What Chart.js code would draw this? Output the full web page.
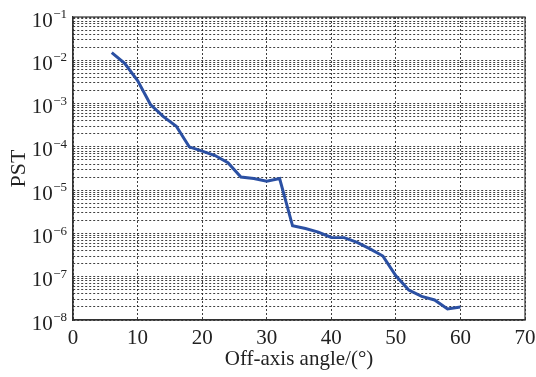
<!DOCTYPE html>
<html>
<head>
<meta charset="utf-8">
<script src="https://cdn.jsdelivr.net/npm/chart.js@4/dist/chart.umd.min.js"></script>
<style>
  html, body { margin: 0; padding: 0; background: #fff; }
  #wrap { width: 536px; height: 377px; }
</style>
</head>
<body>
<div id="wrap"><canvas id="c" width="536" height="377"></canvas></div>
<script>
// ---- data ----
const angles = [6, 8, 10, 12, 14, 16, 18, 20, 22, 24, 26, 28, 30, 32, 34, 36, 38, 40, 42, 44, 46, 48, 50, 52, 54, 56, 58, 60];
const pstValues = [1.5e-2, 8.5e-3, 3.4e-3, 9.5e-4, 5.0e-4, 3.0e-4, 1.0e-4, 8.0e-5, 6.3e-5, 4.3e-5, 2.0e-5, 1.85e-5, 1.6e-5, 1.85e-5,
                   1.5e-6, 1.3e-6, 1.07e-6, 8.1e-7, 8.0e-7, 6.2e-7, 4.4e-7, 3.0e-7, 1.05e-7, 4.9e-8, 3.5e-8, 2.9e-8, 1.8e-8, 2.0e-8];
const yTickValues = [1e-8, 1e-7, 1e-6, 1e-5, 1e-4, 1e-3, 1e-2, 1e-1];
const yTickBase = '10';
const yTickExponents = ['\u22128', '\u22127', '\u22126', '\u22125', '\u22124', '\u22123', '\u22122', '\u22121'];
const minorMultipliers = [2, 3, 4, 5, 6, 7, 8, 9];
const xTickStep = 10;
const xMin = 0, xMax = 70;
const xTitle = 'Off-axis angle/(\u00B0)';
const yTitle = 'PST';

const FONT = "'Liberation Serif', 'Times New Roman', serif";
const gridColor = 'rgba(30,30,30,0.85)';
const textColor = '#222';

const framePlugin = {
  id: 'frame',
  afterDatasetsDraw(chart) {
    const {ctx, chartArea: a} = chart;
    ctx.save();
    ctx.strokeStyle = '#333';
    ctx.lineWidth = 1.2;
    ctx.strokeRect(a.left, a.top, a.right - a.left, a.bottom - a.top);
    ctx.restore();
  }
};

// draws y tick labels as "10" with a raised exponent, like the reference
const powerLabelPlugin = {
  id: 'powerLabels',
  afterDraw(chart) {
    const {ctx} = chart;
    const ys = chart.scales.y;
    const rightEdge = ys.right - 6;
    ctx.save();
    ctx.fillStyle = textColor;
    ctx.textBaseline = 'alphabetic';
    yTickValues.forEach((v, i) => {
      const py = ys.getPixelForValue(v);
      ctx.font = "13px " + FONT;
      const ew = ctx.measureText(yTickExponents[i]).width;
      ctx.textAlign = 'left';
      ctx.fillText(yTickExponents[i], rightEdge - ew, py + 1.2);
      ctx.font = "21px " + FONT;
      ctx.textAlign = 'right';
      ctx.fillText(yTickBase, rightEdge - ew - 0.5, py + 9.6);
    });
    ctx.restore();
  }
};

new Chart(document.getElementById('c'), {
  type: 'line',
  data: {
    datasets: [{
      data: angles.map((a, i) => ({x: a, y: pstValues[i]})),
      borderColor: '#2B50A3',
      borderWidth: 3,
      pointRadius: 0,
      tension: 0,
      fill: false
    }]
  },
  options: {
    responsive: false,
    animation: false,
    layout: { padding: { top: 17, right: 11, bottom: 0, left: 0 } },
    plugins: { legend: { display: false }, tooltip: { enabled: false } },
    scales: {
      x: {
        type: 'linear',
        min: xMin, max: xMax,
        ticks: {
          stepSize: xTickStep,
          color: textColor,
          font: { family: FONT, size: 21 },
          padding: 6,
          maxRotation: 0
        },
        grid: { color: gridColor, lineWidth: 1, drawTicks: false },
        border: { display: true, color: '#333', width: 1.2, dash: [2, 2] },
        title: {
          display: true, text: xTitle, color: textColor,
          font: { family: FONT, size: 21 },
          padding: { top: 0, bottom: 5 }
        },
        afterFit(scale) { scale.height = 57; scale.paddingLeft = 0; scale.paddingRight = 0; }
      },
      y: {
        type: 'logarithmic',
        min: yTickValues[0], max: yTickValues[yTickValues.length - 1],
        afterBuildTicks(scale) {
          const t = [];
          for (let i = 0; i < yTickValues.length; i++) {
            t.push({value: yTickValues[i], major: true});
            if (i < yTickValues.length - 1) {
              minorMultipliers.forEach(m => t.push({value: yTickValues[i] * m, major: false}));
            }
          }
          scale.ticks = t;
        },
        ticks: {
          autoSkip: false,
          color: 'rgba(0,0,0,0)',
          font: { family: FONT, size: 21 },
          padding: 5,
          callback(value) {
            for (let i = 0; i < yTickValues.length; i++) {
              if (Math.abs(value / yTickValues[i] - 1) < 1e-6) return yTickBase + yTickExponents[i];
            }
            return '';
          }
        },
        grid: { color: gridColor, lineWidth: 1, drawTicks: false },
        border: { display: true, color: '#333', width: 1.2, dash: [2, 2] },
        title: {
          display: true, text: yTitle, color: textColor,
          font: { family: FONT, size: 22 },
          padding: { top: 6, bottom: 0 }
        },
        afterFit(scale) { scale.width = 73; scale.paddingTop = 0; scale.paddingBottom = 0; }
      }
    }
  },
  plugins: [framePlugin, powerLabelPlugin]
});
</script>
</body>
</html>
